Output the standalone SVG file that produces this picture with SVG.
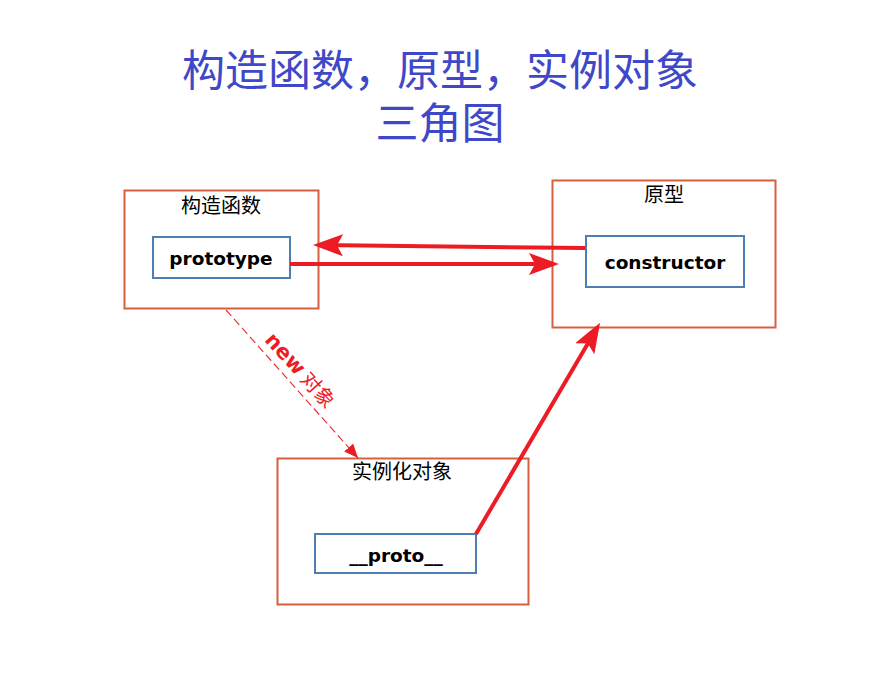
<svg xmlns="http://www.w3.org/2000/svg" width="895" height="686" viewBox="0 0 895 686">
<defs>
<style>
.title{font-family:"Noto Sans CJK SC","Noto Sans",sans-serif;font-size:43px;fill:#3F48C8;text-anchor:middle}
.outer{fill:none;stroke:#D5603E;stroke-width:2}
.inner{fill:#fff;stroke:#4F7FB2;stroke-width:2}
.cap{font-family:"Noto Sans CJK SC","Noto Sans",sans-serif;font-size:20px;fill:#000;text-anchor:middle}
.lbl{font-family:"DejaVu Sans",sans-serif;font-weight:bold;font-size:18.5px;fill:#000;text-anchor:middle}
.arr{stroke:#ED1C24;stroke-width:4;fill:none;marker-end:url(#ah)}
.dash{stroke:#E8323A;stroke-width:1.2;fill:none;stroke-dasharray:8 4;marker-end:url(#ahs)}
</style>
<marker id="ah" markerUnits="userSpaceOnUse" markerWidth="30" markerHeight="22" viewBox="0 0 30 22" refX="24" refY="11" orient="auto">
<path d="M0,0 L30,11 L0,22 L6,11 z" fill="#ED1C24"/>
</marker>
<marker id="ahs" markerUnits="userSpaceOnUse" markerWidth="14" markerHeight="12" viewBox="0 0 14 12" refX="14" refY="6" orient="auto">
<path d="M0,0 L14,6 L0,12 z" fill="#ED1C24"/>
</marker>
</defs>
<rect width="895" height="686" fill="#fff"/>
<g id="title">
<text class="title" x="440" y="86">构造函数，原型，实例对象</text>
<text class="title" x="440" y="139">三角图</text>
</g>
<g id="constructor-fn">
<rect class="outer" x="124.500" y="190.500" width="194" height="118"/>
<text class="cap" x="221" y="213">构造函数</text>
<rect class="inner" x="153" y="237" width="137" height="41"/>
<text class="lbl" x="221" y="265">prototype</text>
</g>
<g id="prototype-obj">
<rect class="outer" x="552.500" y="180.500" width="223" height="147"/>
<text class="cap" x="664" y="202">原型</text>
<rect class="inner" x="586" y="236" width="158" height="51"/>
<text class="lbl" x="665" y="269">constructor</text>
</g>
<g id="instance">
<rect class="outer" x="277.500" y="458.500" width="251" height="146"/>
<text class="cap" x="402" y="479">实例化对象</text>
<rect class="inner" x="315" y="534" width="161" height="39"/>
<text class="lbl" x="396" y="562">__proto__</text>
</g>
<g id="connectors">
<line class="arr" x1="585" y1="248" x2="319" y2="245"/>
<line class="arr" x1="290" y1="264" x2="553" y2="264"/>
<line class="arr" x1="476" y1="534" x2="597" y2="328"/>
<line class="dash" x1="226" y1="310" x2="358" y2="458"/>
<text transform="translate(295 375) rotate(48)" text-anchor="middle" fill="#ED1C24"><tspan font-family="DejaVu Sans,sans-serif" font-weight="bold" font-size="21">new</tspan><tspan font-family="Noto Sans CJK SC,sans-serif" font-size="20"> 对象</tspan></text>
</g>
</svg>
